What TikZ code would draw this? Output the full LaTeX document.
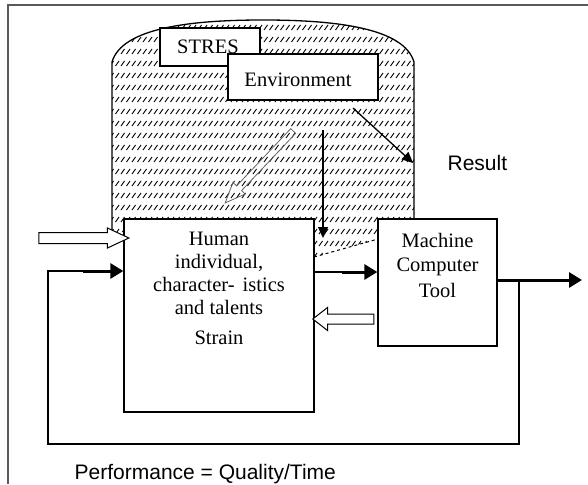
\documentclass[tikz,border=0pt]{standalone}
\usepackage{fontspec}
\setmainfont{Liberation Serif}
\newfontfamily\sansfont{Liberation Sans}
\usetikzlibrary{arrows.meta,shapes.arrows}

\begin{document}
\begin{tikzpicture}[x=1pt,y=-1pt,line width=1.3pt,
    block/.style ={draw, fill=white, inner sep=0pt},
    boxtext/.style ={inner sep=0pt, align=center, font=\fontsize{20.5}{23}\selectfont},
    sanstext/.style ={inner sep=0pt, font=\sansfont\fontsize{21}{25}\selectfont},
    hatch/.style ={line width=0.9pt},
    hollow/.style ={single arrow, draw, inner sep=0pt, line width=1pt},
    conn/.style ={line width=1.3pt},
    heavy/.style ={line width=3pt, -{Triangle[length=13pt,width=15pt]}},
    thinhead/.style ={line width=1.3pt, -{Triangle[length=11pt,width=10pt]}}]
   \useasboundingbox (0,0) rectangle (588,484);
   \draw[line width=2pt,black!65] (8,484) -- (8,5) -- (588,5);

   % stress field
   \begin{scope}
     \clip (112,232) -- (112,62) .. controls (122,28) and (190,20) .. (263,20)
       .. controls (336,20) and (404,28) .. (414,62) -- (414,219) -- (378,219)
       -- (378,239) -- (314,257) -- (314,219) -- (124,219) -- (124,232) -- cycle;
     \foreach \r in {0,...,20}
       \foreach \c in {0,...,56}
         \draw[hatch] (110+\c*5.5,30+\r*12) -- ++(3.5,-5);
   \end{scope}
   \draw (112,232) -- (112,62) .. controls (122,28) and (190,20) .. (263,20)
       .. controls (336,20) and (404,28) .. (414,62) -- (414,219);
   \draw[dashed,line width=1pt] (314,257) -- (378,239);

   \node[block, minimum width=100pt, minimum height=38pt] (stres) at (210,47) {};
   \node[block, minimum width=150pt, minimum height=46pt] (env) at (303,77) {};
   \node[block, minimum width=190pt, minimum height=193pt] (human) at (219,315.5) {};
   \node[block, minimum width=119pt, minimum height=127pt] (machine) at (437.5,282.5) {};

   \node[boxtext, anchor=base] (streslbl) at (208,54) {STRES};
   \node[boxtext, anchor=base] (envlbl) at (298,87) {Environment};
   \node[boxtext, anchor=north] (humanlbl) at (219,231)
     {Human\\ individual,\\ character-\hspace{8pt}istics\\ and talents\\[7pt] Strain};
   \node[boxtext, anchor=north] (machinelbl) at (437.5,233)
     {Machine\\[1pt] Computer\\[3pt] Tool};
   \node[sanstext, anchor=base west] (result) at (447,170.5) {Result};
   \node[sanstext, anchor=base west] (perf) at (74,479) {Performance = Quality/Time};

   % hollow arrows
   \node[hollow, fill=white, inner sep=5pt, minimum height=90pt,
     single arrow head extend=4.5pt, single arrow tip angle=50] (input) at (78,238) {};
   \node[hollow, draw=black!60, line width=0.8pt, inner sep=3pt, minimum height=99pt,
     single arrow head extend=5pt, single arrow tip angle=45,
     rotate=226.6] (load) at (262,164) {};
   \node[hollow, fill=white, inner sep=4.5pt, minimum height=61pt,
     single arrow head extend=6.5pt, single arrow tip angle=76,
     rotate=180] (back) at (346.5,319) {};

   % connectors
   \coordinate (envout) at (353,108);
   \coordinate (res) at (413,163);
   \coordinate (strtop) at (323,130);
   \coordinate (strend) at (323,238);
   \coordinate (hm) at (342,272);
   \coordinate (tap) at (519,280);
   \coordinate (outend) at (582,280);
   \coordinate (loopbot) at (519,444);
   \coordinate (fb) at (48,271);
   \coordinate (fbthick) at (83,271);

   \draw[thinhead] (envout) to (res);
   \draw[thinhead] (strtop) to (strend);
   \draw[conn] (hm -| human.east) to (hm);
   \draw[heavy] (hm) to (hm -| machine.west);
   \draw[heavy] (machine.east |- tap) to (outend);
   \draw[conn] (tap) -- (loopbot) -| (fb) -- (fbthick);
   \draw[heavy] (fbthick) to (fb -| human.west);
 \end{tikzpicture}
\end{document}
